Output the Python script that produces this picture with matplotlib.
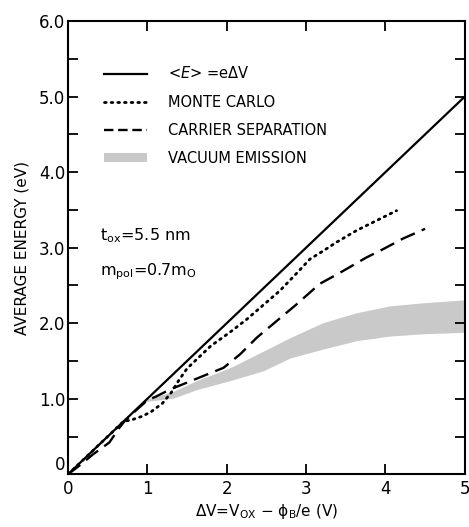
import matplotlib
matplotlib.use('Agg')
import matplotlib.pyplot as plt
from matplotlib.patches import Patch
from matplotlib.lines import Line2D
from matplotlib.ticker import MultipleLocator, FixedLocator

plt.rcParams['font.family'] = 'DejaVu Sans'
plt.rcParams['mathtext.default'] = 'regular'

# <E> = e dV reference line
ideal_x = [0, 5]
ideal_y = [0, 5]

# Monte Carlo (dotted)
mc_x = [0, 0.3, 0.55, 0.7, 0.8, 0.94, 1.05, 1.19, 1.3, 1.4, 1.5, 1.62, 1.8, 2.04, 2.25,
        2.46, 2.67, 2.88, 3.05, 3.22, 3.38, 3.64, 3.89, 4.14]
mc_y = [0, 0.3, 0.55, 0.70, 0.72, 0.77, 0.83, 0.94, 1.08, 1.25, 1.40, 1.52, 1.70, 1.88, 2.05,
        2.24, 2.43, 2.66, 2.85, 2.96, 3.07, 3.23, 3.36, 3.49]

# carrier separation (dashed)
cs_x = [0, 0.15, 0.31, 0.52, 0.65, 0.71, 0.85, 1.0, 1.11, 1.28, 1.49, 1.70, 1.96, 2.17,
        2.38, 2.63, 2.88, 3.17, 3.43, 3.76, 3.97, 4.22, 4.50]
cs_y = [0, 0.12, 0.26, 0.42, 0.62, 0.70, 0.84, 0.98, 1.03, 1.12, 1.21, 1.30, 1.41, 1.59,
        1.81, 2.03, 2.25, 2.52, 2.67, 2.87, 2.98, 3.12, 3.25]

# vacuum emission band
vac_x = [0.95, 1.33, 1.62, 2.04, 2.46, 2.8, 3.22, 3.64, 4.06, 4.47, 5.0]
vac_hi = [0.98, 1.10, 1.24, 1.41, 1.63, 1.81, 2.01, 2.14, 2.23, 2.27, 2.31]
vac_lo = [0.96, 1.01, 1.12, 1.24, 1.37, 1.54, 1.66, 1.77, 1.83, 1.86, 1.88]

labels = ['<$\\mathit{E}$> =e$\\Delta$V', 'MONTE CARLO', 'CARRIER SEPARATION', 'VACUUM EMISSION']

fig = plt.figure(figsize=(4.69, 5.27), dpi=100)
ax = fig.add_axes([0.145, 0.1, 0.846, 0.86])

band_col = '#c9c9c9'
ax.fill_between(vac_x, vac_lo, vac_hi, color=band_col, lw=0, zorder=1)
ax.plot(ideal_x, ideal_y, color='black', lw=1.6, zorder=3)
ax.plot(mc_x, mc_y, color='black', lw=2.0, linestyle=(0, (0.6, 1.8)),
        dash_capstyle='round', zorder=3)
ax.plot(cs_x, cs_y, color='black', lw=1.7, linestyle=(0, (6.5, 3.2)), zorder=3)

ax.set_xlim(0, 5)
ax.set_ylim(0, 6)
ax.xaxis.set_major_locator(FixedLocator([0, 1, 2, 3, 4, 5]))
ax.set_xticklabels(['0', '1', '2', '3', '4', '5'])
ax.set_yticks([0, 1, 2, 3, 4, 5, 6])
ax.set_yticklabels(['0', '1.0', '2.0', '3.0', '4.0', '5.0', '6.0'])
ax.yaxis.set_minor_locator(MultipleLocator(0.5))
ax.tick_params(which='both', direction='in', length=7, width=1.3,
               top=True, right=True, labelsize=12, pad=2)
ax.tick_params(axis='x', pad=4)
ax.yaxis.get_major_ticks()[0].label1.set_verticalalignment('bottom')
for s in ax.spines.values():
    s.set_linewidth(1.5)

ax.set_ylabel('AVERAGE ENERGY (eV)', fontsize=11, labelpad=7)
ax.set_xlabel('$\\Delta$V=V$_{OX}$ $-$ $\\phi_B$/e (V)', fontsize=11, labelpad=3)

ax.text(0.4, 3.1, '$t_{ox}$=5.5 nm', fontsize=11.5)
ax.text(0.4, 2.63, '$m_{pol}$=0.7$m_O$', fontsize=11.5)

handles = [Line2D([], [], color='black', lw=1.6),
           Line2D([], [], color='black', lw=2.0, linestyle=(0, (0.6, 1.8)), dash_capstyle='round'),
           Line2D([], [], color='black', lw=1.7, linestyle=(0, (4, 2))),
           Patch(facecolor=band_col, edgecolor='none')]
leg = ax.legend(handles, labels, loc='upper left', bbox_to_anchor=(0.075, 0.915),
                frameon=False, fontsize=10.5, handlelength=3.0, handleheight=0.5,
                handletextpad=1.4, labelspacing=0.9, borderaxespad=0)

fig.savefig('out.png', dpi=100)
